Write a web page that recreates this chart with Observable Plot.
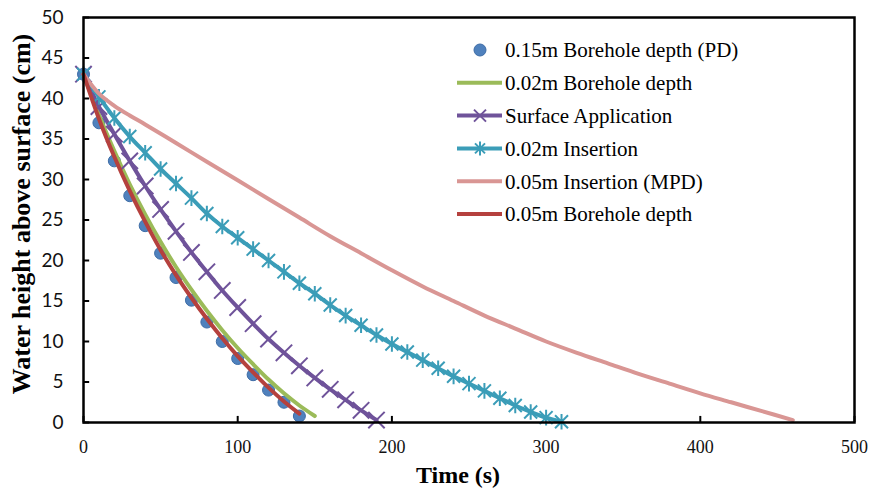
<!DOCTYPE html>
<html>
<head>
<meta charset="utf-8">
<script src="https://cdn.jsdelivr.net/npm/d3@7"></script>
<script src="https://cdn.jsdelivr.net/npm/@observablehq/plot@0.6"></script>
<style>
  html, body { margin: 0; padding: 0; background: #fff; }
  #wrap { position: relative; width: 869px; height: 496px; }
  #legend { position: absolute; left: 455px; top: 30px; }
</style>
</head>
<body>
<div id="wrap"></div>
<script>
// ---- data ----
const seriesNames = [
  "0.15m Borehole depth (PD)",
  "0.02m Borehole depth",
  "Surface Application",
  "0.02m Insertion",
  "0.05m Insertion (MPD)",
  "0.05m Borehole depth"
];
const colors = ["#4f81bd", "#9bbb59", "#6f539a", "#3b9db8", "#d99694", "#b5413e"];

const tPD = [0,10,20,30,40,50,60,70,80,90,100,110,120,130,140];
const hPD = [43,37,32.3,28,24.3,20.9,17.9,15.1,12.4,10,7.9,5.9,4.0,2.5,0.8];

const tB02 = [0,10,20,30,40,50,60,70,80,90,100,110,120,130,140,150];
const hB02 = [43,38,33.5,29.4,25.7,22.3,19.2,16.4,13.8,11.4,9.2,7.2,5.3,3.6,2.1,0.8];

const tSA = [0,10,20,30,40,50,60,70,80,90,100,110,120,130,140,150,160,170,180,190];
const hSA = [43,39.0,35.6,32.3,29.2,26.3,23.6,21.0,18.6,16.3,14.2,12.2,10.3,8.6,7.0,5.5,4.1,2.8,1.5,0.3];

const tI02 = [0,10,20,30,40,50,60,70,80,90,100,110,120,130,140,150,160,170,180,190,200,210,220,230,240,250,260,270,280,290,300,310];
const hI02 = [43,40.2,37.6,35.3,33.3,31.3,29.5,27.7,25.8,24.2,22.8,21.4,20.0,18.6,17.2,15.9,14.5,13.2,12.0,10.8,9.7,8.7,7.7,6.7,5.7,4.8,3.9,3.0,2.1,1.3,0.6,0.1];

const tI05 = [0,10,20,30,40,60,80,100,120,140,160,180,200,220,240,260,280,300,320,340,360,380,400,420,440,460];
const hI05 = [43,40.6,39.1,37.9,36.8,34.5,32.2,29.9,27.6,25.3,23.0,20.9,18.8,16.8,15.0,13.2,11.6,10.0,8.6,7.3,6.0,4.8,3.6,2.5,1.4,0.3];

const tB05 = [0,10,20,30,40,50,60,70,80,90,100,110,120,130,140];
const hB05 = [43,37.5,32.8,28.6,24.8,21.3,18.2,15.4,12.8,10.4,8.2,6.2,4.3,2.6,1.1];

const xTicks = [0,100,200,300,400,500];
const yTicks = [0,5,10,15,20,25,30,35,40,45,50];
const xLabel = "Time (s)";
const yLabel = "Water height above surface (cm)";

// ---- build ----
const toRows = (t, h) => t.map((v, i) => ({t: v, h: h[i]}));
const PD = toRows(tPD, hPD), B02 = toRows(tB02, hB02), SA = toRows(tSA, hSA),
      I02 = toRows(tI02, hI02), I05 = toRows(tI05, hI05), B05 = toRows(tB05, hB05);

// Excel-like "star" marker: x plus vertical bar
const star = {
  draw(context, size) {
    const r = Math.sqrt(size / Math.PI);
    context.moveTo(-r, -r); context.lineTo(r, r);
    context.moveTo(r, -r); context.lineTo(-r, r);
    context.moveTo(0, -r * 1.2); context.lineTo(0, r * 1.2);
  }
};

const serif = "Liberation Serif";
const sans = "Lato";

const chart = Plot.plot({
  width: 869,
  height: 496,
  marginLeft: 83,
  marginRight: 15,
  marginTop: 17,
  marginBottom: 74,
  style: {background: "white", overflow: "visible"},
  x: {domain: [0, 500], ticks: xTicks},
  y: {domain: [0, 50], ticks: yTicks},
  marks: [
    // tick labels
    Plot.axisY(yTicks, {tickSize: 0, tickPadding: 20, fontSize: 19, fontFamily: sans, label: null, fill: "#111"}),
    Plot.axisX(xTicks, {tickSize: 0, tickPadding: 18, fontSize: 18, fontFamily: serif, label: null, fill: "#111"}),
    // inward tick marks
    Plot.ruleY(yTicks, {x1: 0, x2: 4, stroke: "black", strokeWidth: 2}),
    Plot.ruleX(xTicks, {y1: 0, y2: 0.75, stroke: "black", strokeWidth: 2}),
    // series
    Plot.dot(PD, {x: "t", y: "h", r: 6, fill: colors[0], stroke: "#3d6ca6", strokeWidth: 1}),
    Plot.line(B02, {x: "t", y: "h", stroke: colors[1], strokeWidth: 4, curve: "catmull-rom"}),
    Plot.line(SA, {x: "t", y: "h", stroke: colors[2], strokeWidth: 4, curve: "catmull-rom"}),
    Plot.dot(SA, {x: "t", y: "h", symbol: "times", r: 7.5, stroke: colors[2], strokeWidth: 2}),
    Plot.line(I02, {x: "t", y: "h", stroke: colors[3], strokeWidth: 4, curve: "catmull-rom"}),
    Plot.dot(I02, {x: "t", y: "h", symbol: star, r: 6.5, stroke: colors[3], strokeWidth: 2}),
    Plot.line(I05, {x: "t", y: "h", stroke: colors[4], strokeWidth: 4, curve: "catmull-rom"}),
    Plot.line(B05, {x: "t", y: "h", stroke: colors[5], strokeWidth: 4, curve: "catmull-rom"}),
    Plot.frame({stroke: "black", strokeWidth: 2.5}),
    // axis titles
    Plot.text([yLabel], {frameAnchor: "left", textAnchor: "middle", rotate: -90, dx: -62, dy: -6, fontSize: 26, fontWeight: "bold", fontFamily: serif, fill: "black"}),
    Plot.text([xLabel], {frameAnchor: "bottom", textAnchor: "middle", dx: -11, dy: 60, fontSize: 24, fontWeight: "bold", fontFamily: serif, fill: "black"})
  ]
});

const wrap = document.getElementById("wrap");
wrap.appendChild(chart);

// ---- legend (SVG overlay) ----
const rowH = 32.8;
const lg = d3.select(wrap).append("svg")
  .attr("id", "legend")
  .attr("width", 320).attr("height", rowH * seriesNames.length + 8)
  .style("position", "absolute").style("left", "455px").style("top", "30px");
seriesNames.forEach((name, i) => {
  const g = lg.append("g").attr("transform", `translate(0,${20 + i * rowH})`);
  if (i === 0) {
    g.append("circle").attr("cx", 25).attr("cy", 0).attr("r", 6)
      .attr("fill", colors[0]).attr("stroke", "#3d6ca6");
  } else {
    g.append("line").attr("x1", 2).attr("x2", 47).attr("y1", 0).attr("y2", 0)
      .attr("stroke", colors[i]).attr("stroke-width", 4);
    if (i === 2) g.append("path").attr("d", "M19,-6L31,6M31,-6L19,6").attr("stroke", colors[i]).attr("stroke-width", 2);
    if (i === 3) g.append("path").attr("d", "M20,-5L30,5M30,-5L20,5M25,-7L25,7").attr("stroke", colors[i]).attr("stroke-width", 2);
  }
  g.append("text").attr("x", 50).attr("y", 0).attr("dy", "0.35em")
    .attr("font-family", serif).attr("font-size", 21).attr("fill", "black")
    .text(name);
});
</script>
</body>
</html>
